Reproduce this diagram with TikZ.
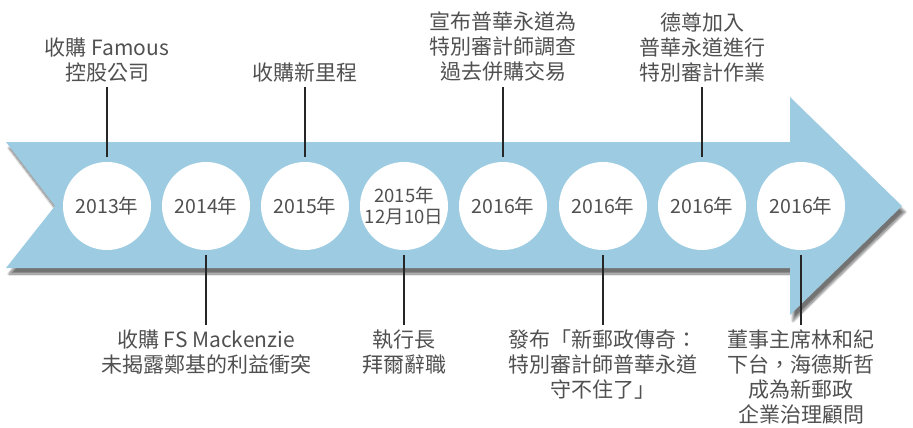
\documentclass[tikz,border=0pt]{standalone}
\usepackage{fontspec}
\setmainfont{Noto Sans CJK TC}
\usepackage{xcolor}
\usetikzlibrary{shadows.blur}
\definecolor{band}{RGB}{157,204,226}
\definecolor{txt}{RGB}{80,80,80}
\tikzset{
	year/.style={circle, fill=white, minimum size=88pt, inner sep=0pt, outer sep=5pt,
		text=txt, font=\fontsize{19.5}{20}\selectfont, align=center},
	event/.style={text=txt, font=\fontsize{21}{25}\selectfont, align=center, inner sep=0pt},
	tick/.style={line width=2.6pt, black!85}
}
\begin{document}
\begin{tikzpicture}[x=1pt, y=-1pt]
	\useasboundingbox (0,0) rectangle (913,428);
	% the band
	\fill[band, blur shadow={shadow xshift=3pt, shadow yshift=-6pt, shadow opacity=55, shadow blur steps=12}]
		(6,142) -- (790,142) -- (790,97) -- (902,206) -- (790,315) -- (790,268)
		-- (6,268) -- (55,206) -- cycle;
	% the years
	\node[year] (c1) at (107,206) {2013年};
	\node[year] (c2) at (206,206) {2014年};
	\node[year] (c3) at (305,206) {2015年};
	\node[year, font=\fontsize{18.5}{21}\selectfont] (c4) at (404,206) {2015年\\12月10日};
	\node[year] (c5) at (503,206) {2016年};
	\node[year] (c6) at (603,206) {2016年};
	\node[year] (c7) at (702,206) {2016年};
	\node[year] (c8) at (801,206) {2016年};
	% above
	\node[event, anchor=south] (t1) at (107,82) {收購 Famous\\控股公司};
	\node[event, anchor=south] (t3) at (305,82) {收購新里程};
	\node[event, anchor=south] (t5) at (503,82) {宣布普華永道為\\特別審計師調查\\過去併購交易};
	\node[event, anchor=south] (t7) at (702,82) {德尊加入\\普華永道進行\\特別審計作業};
	% below
	\node[event, anchor=north] (b2) at (206,330) {收購 FS Mackenzie\\未揭露鄭基的利益衝突};
	\node[event, anchor=north] (b4) at (404,330) {執行長\\拜爾辭職};
	\node[event, anchor=north] (b6) at (603,330) {發布「新郵政傳奇：\\特別審計師普華永道\\守不住了」};
	\node[event, anchor=north] (b8) at (801,330) {董事主席林和紀\\下台，海德斯哲\\成為新郵政\\企業治理顧問};
	\foreach \i in {1,3,5,7} {
		\draw[tick] (t\i.south |- 0,87) -- (c\i.north);
	}
	\foreach \i in {2,4,6,8} {
		\draw[tick] (c\i.south) -- (b\i.north |- 0,325);
	}
\end{tikzpicture}
\end{document}
